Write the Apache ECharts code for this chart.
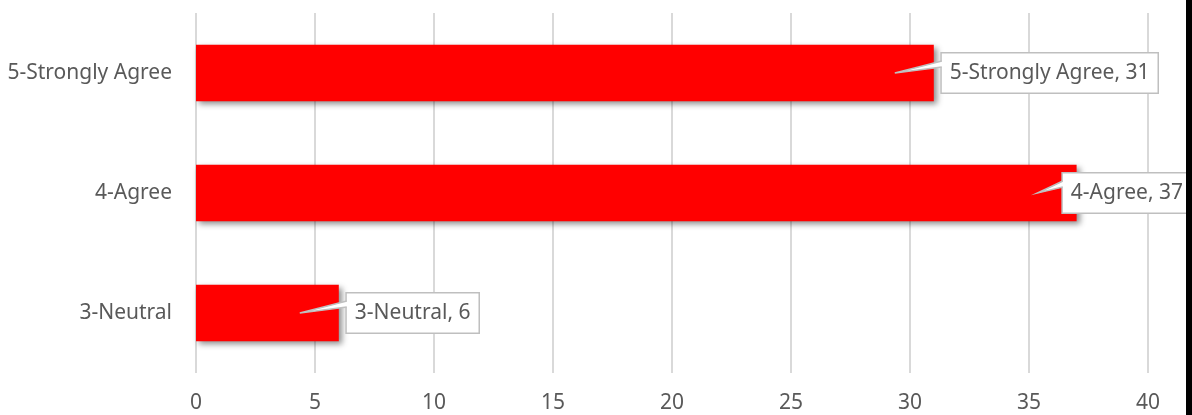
<!DOCTYPE html>
<html><head><meta charset="utf-8">
<script src="https://cdn.jsdelivr.net/npm/echarts@6/dist/echarts.min.js"></script>
<style>html,body{margin:0;padding:0;background:#fff}#c{width:1192px;height:415px}</style>
</head><body><div id="c"></div>
<script>
const categories = ['3-Neutral', '4-Agree', '5-Strongly Agree'];
const values = [6, 37, 31];
const xTicks = {min: 0, max: 40, interval: 5};

const FONT = '"Noto Sans"';
const FONT_SIZE = 21;
const chart = echarts.init(document.getElementById('c'), null, {renderer: 'canvas'});
const calloutData = values.map((v, i) => [v, i, categories[i] + ', ' + v]);

const measureCtx = document.createElement('canvas').getContext('2d');
measureCtx.font = FONT_SIZE + 'px ' + FONT;
const PAD_X = 8;
const LIMIT_RIGHT = 1191;

chart.setOption({
  animation: false,
  backgroundColor: '#ffffff',
  grid: {left: 196, right: 44, top: 13, bottom: 42},
  xAxis: {
    type: 'value', min: xTicks.min, max: xTicks.max, interval: xTicks.interval,
    axisLine: {show: false}, axisTick: {show: false},
    splitLine: {lineStyle: {color: '#d9d9d9', width: 2}},
    axisLabel: {color: '#595959', fontFamily: FONT, fontSize: FONT_SIZE, margin: 20}
  },
  yAxis: {
    type: 'category', data: categories,
    axisLine: {show: false}, axisTick: {show: false},
    axisLabel: {color: '#595959', fontFamily: FONT, fontSize: FONT_SIZE, margin: 24}
  },
  series: [{
    type: 'bar', data: values, barWidth: '47%',
    itemStyle: {color: '#ff0000', shadowColor: 'rgba(0,0,0,0.45)', shadowBlur: 6, shadowOffsetX: 3, shadowOffsetY: 3}
  }, {
    type: 'custom', data: calloutData, encode: {x: 0, y: 1}, clip: false, z: 5,
    renderItem: function (params, api) {
      const p = api.coord([api.value(0), api.value(1)]);
      const text = calloutData[params.dataIndex][2];
      const boxW = measureCtx.measureText(text).width + 2 * PAD_X;
      let left = p[0] + 8;
      if (left + boxW > LIMIT_RIGHT) left = LIMIT_RIGHT - boxW;
      const cy = p[1];
      const tipX = p[0] - 39, tipY = cy;
      return {
        type: 'group',
        children: [
          {
            type: 'text', z2: 1,
            style: {
              x: left, y: cy, text: text, align: 'left', verticalAlign: 'middle',
              fill: '#595959', font: FONT_SIZE + 'px ' + FONT, lineHeight: 22,
              backgroundColor: '#ffffff', borderColor: '#bfbfbf', borderWidth: 1.5,
              padding: [8, PAD_X, 9, PAD_X]
            }
          },
          {
            type: 'polygon', z2: 2,
            shape: {points: [[left + 1, cy - 12], [tipX, tipY], [left + 1, cy - 6]]},
            style: {fill: '#ffffff', stroke: null}
          },
          {
            type: 'polyline', z2: 3,
            shape: {points: [[left, cy - 12], [tipX, tipY], [left, cy - 6]]},
            style: {fill: null, stroke: '#bfbfbf', lineWidth: 1.5}
          }
        ]
      };
    }
  }],
  graphic: [{type: 'rect', shape: {x: 1186, y: 0, width: 6, height: 415}, style: {fill: '#000000'}, z: 100}]
});
</script></body></html>
